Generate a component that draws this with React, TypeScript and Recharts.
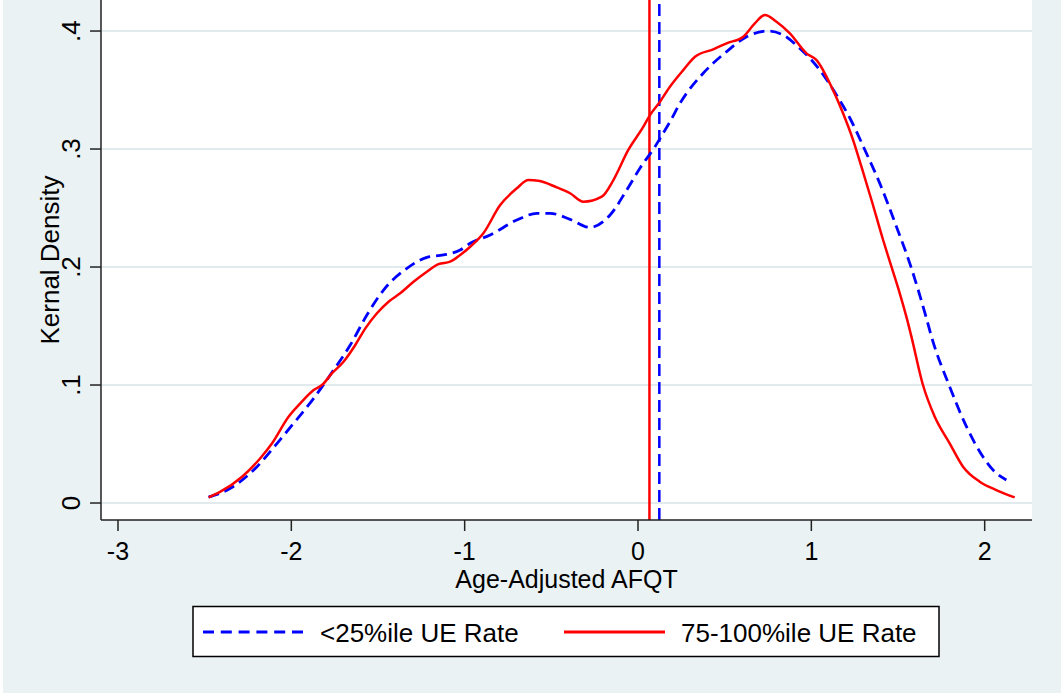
import { LineChart, Line, XAxis, YAxis, CartesianGrid, ReferenceLine } from "recharts";

// 75-100%ile UE Rate (solid red)
const redX = [-2.477, -2.409, -2.284, -2.179, -2.111, -2.016, -1.948, -1.871, -1.823, -1.765, -1.699, -1.631, -1.573, -1.506, -1.439, -1.372, -1.295, -1.218, -1.151, -1.084, -1.026, -0.968, -0.892, -0.795, -0.699, -0.632, -0.575, -0.469, -0.392, -0.315, -0.209, -0.142, -0.056, 0.031, 0.069, 0.127, 0.184, 0.261, 0.329, 0.434, 0.511, 0.607, 0.674, 0.732, 0.799, 0.876, 0.972, 1.03, 1.116, 1.183, 1.241, 1.289, 1.347, 1.414, 1.462, 1.51, 1.552, 1.577, 1.644, 1.712, 1.798, 1.875, 1.971, 2.067, 2.173];
const redY = [0.0048, 0.0096, 0.0223, 0.0379, 0.0506, 0.0731, 0.0845, 0.0958, 0.1, 0.11, 0.1197, 0.1339, 0.148, 0.1608, 0.1706, 0.1777, 0.1875, 0.196, 0.2025, 0.2045, 0.2102, 0.2172, 0.2286, 0.2525, 0.2667, 0.2737, 0.2731, 0.2675, 0.2625, 0.2553, 0.2596, 0.2737, 0.2992, 0.3189, 0.3288, 0.3401, 0.3528, 0.3669, 0.3782, 0.3845, 0.3896, 0.3952, 0.4065, 0.4136, 0.4079, 0.398, 0.3811, 0.3754, 0.3528, 0.3303, 0.3076, 0.285, 0.2568, 0.2229, 0.2003, 0.1777, 0.1558, 0.1412, 0.1, 0.0731, 0.0506, 0.0308, 0.0181, 0.011, 0.0048];

// <25%ile UE Rate (dashed blue)
const blueX = [-2.478, -2.352, -2.198, -2.082, -1.987, -1.871, -1.756, -1.66, -1.564, -1.468, -1.333, -1.218, -1.122, -1.026, -0.968, -0.853, -0.699, -0.584, -0.507, -0.392, -0.277, -0.161, -0.065, 0.012, 0.098, 0.127, 0.184, 0.242, 0.376, 0.511, 0.627, 0.751, 0.838, 0.934, 1.049, 1.145, 1.222, 1.318, 1.395, 1.491, 1.568, 1.664, 1.693, 1.798, 1.895, 1.99, 2.058, 2.125];
const blueY = [0.005, 0.0125, 0.0308, 0.0506, 0.0675, 0.0887, 0.1127, 0.1339, 0.1593, 0.1805, 0.1989, 0.2082, 0.2102, 0.2144, 0.2201, 0.2271, 0.2398, 0.2455, 0.2455, 0.2404, 0.2336, 0.2441, 0.2653, 0.284, 0.302, 0.309, 0.323, 0.3387, 0.3642, 0.3825, 0.3952, 0.4, 0.3966, 0.3853, 0.3669, 0.3458, 0.3263, 0.2963, 0.2709, 0.2342, 0.2031, 0.1565, 0.141, 0.0986, 0.0647, 0.0392, 0.0265, 0.0195];

// means (vertical lines)
const redMean = 0.066;
const blueMean = 0.123;

const xTicks = [-3, -2, -1, 0, 1, 2];
const yTicks = [0, 0.1, 0.2, 0.3, 0.4];

const redData = redX.map((x, i) => ({ x, y: redY[i] }));
const blueData = blueX.map((x, i) => ({ x, y: blueY[i] }));

const FONT = "'Liberation Sans', Arial, sans-serif";
const BG = "#EAF2F3";
const BLUE = "#0000FF";
const RED = "#FF0000";

const fmtY = (v: number) => (v === 0 ? "0" : "." + Math.round(v * 10));

const YTick = (props: any) => {
  const { y, payload } = props;
  return (
    <text x={80} y={y} transform={`rotate(-90 80 ${y})`} textAnchor="middle" fontSize={26} fill="#000" fontFamily={FONT}>
      {fmtY(payload.value)}
    </text>
  );
};

const YTitle = (props: any) => {
  const vb = props.viewBox;
  const cy = vb.y + vb.height / 2;
  return (
    <text x={59} y={cy} transform={`rotate(-90 59 ${cy})`} textAnchor="middle" fontSize={26} fill="#000" fontFamily={FONT}>
      Kernal Density
    </text>
  );
};

const XTitle = (props: any) => {
  const vb = props.viewBox;
  return (
    <text x={vb.x + vb.width / 2} y={588} textAnchor="middle" fontSize={25} fill="#000" fontFamily={FONT}>
      Age-Adjusted AFQT
    </text>
  );
};

export default function App() {
  return (
    <div style={{ position: "absolute", left: 0, top: 0, width: 1061, height: 693, background: "#fff", fontFamily: FONT }}>
      <div style={{ position: "absolute", left: 3, top: 0, width: 1058, height: 693, background: BG }} />
      <div style={{ position: "absolute", left: 0, top: 0 }}>
        <LineChart width={1061} height={693} data={redData} margin={{ top: 0, right: 29, bottom: 0, left: 0 }}>
          <CartesianGrid vertical={false} fill="#fff" stroke="#E2EAED" strokeWidth={2} horizontalValues={yTicks} />
          <XAxis
            type="number"
            dataKey="x"
            domain={[-3.098, 2.273]}
            ticks={xTicks}
            allowDataOverflow
            height={173}
            tickSize={11}
            tickMargin={11}
            tick={{ fontSize: 25, fill: "#000", fontFamily: FONT }}
            tickLine={{ stroke: "#222", strokeWidth: 1.5 }}
            axisLine={{ stroke: "#222", strokeWidth: 1.5 }}
            label={<XTitle />}
          />
          <YAxis
            type="number"
            dataKey="y"
            domain={[-0.0144, 0.4263]}
            ticks={yTicks}
            allowDataOverflow
            width={101}
            tickSize={11}
            tick={<YTick />}
            tickLine={{ stroke: "#222", strokeWidth: 1.5 }}
            axisLine={{ stroke: "#222", strokeWidth: 1.5 }}
            label={<YTitle />}
          />
          <ReferenceLine x={redMean} stroke={RED} strokeWidth={2.5} />
          <ReferenceLine x={blueMean} stroke={BLUE} strokeWidth={2.5} strokeDasharray="12 6" />
          <Line data={blueData} dataKey="y" type="monotone" stroke={BLUE} strokeWidth={2.8} strokeDasharray="11 6" dot={false} activeDot={false} isAnimationActive={false} />
          <Line data={redData} dataKey="y" type="monotone" stroke={RED} strokeWidth={2.5} dot={false} activeDot={false} isAnimationActive={false} />
        </LineChart>
      </div>
      <svg style={{ position: "absolute", left: 0, top: 0 }} width={1061} height={693}>
        <rect x={193} y={606.5} width={746} height={50} fill="#fff" stroke="#000" strokeWidth={1.5} />
        <line x1={203} x2={303} y1={632} y2={632} stroke={BLUE} strokeWidth={3} strokeDasharray="11 6.8" />
        <text x={320} y={641.5} fontSize={26} fill="#000" fontFamily={FONT}>&lt;25%ile UE Rate</text>
        <line x1={564} x2={665} y1={632} y2={632} stroke={RED} strokeWidth={3} />
        <text x={681} y={641.5} fontSize={26} fill="#000" fontFamily={FONT}>75-100%ile UE Rate</text>
      </svg>
    </div>
  );
}
